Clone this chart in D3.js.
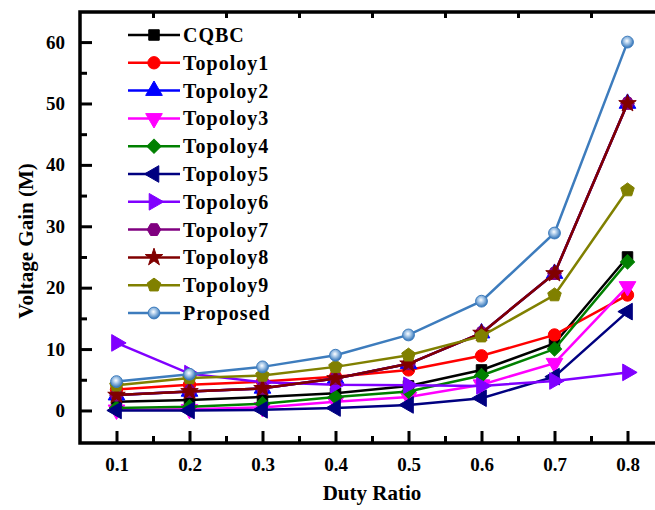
<!DOCTYPE html>
<html>
<head>
<meta charset="utf-8">
<script src="https://cdn.jsdelivr.net/npm/d3@7"></script>
<style>
body { margin: 0; background: #fff; }
text { font-family: "Liberation Serif", "Times New Roman", serif; font-weight: bold; fill: #000; }
</style>
</head>
<body>
<div id="chart"></div>
<script>
// data
var duty = [0.1, 0.2, 0.3, 0.4, 0.5, 0.6, 0.7, 0.8];
var cqbc     = [1.4, 1.7, 2.2, 2.8, 4.0, 6.6, 10.9, 25.0];
var topo1    = [3.4, 4.2, 4.7, 5.5, 6.6, 8.9, 12.3, 18.8];
var topo2    = [2.5, 3.1, 3.6, 5.2, 7.6, 12.6, 22.3, 50.0];
var topo3    = [0.1, 0.2, 0.5, 1.4, 2.2, 4.2, 7.7, 20.2];
var topo4    = [0.4, 0.6, 1.1, 2.2, 3.1, 5.7, 10.0, 24.2];
var topo5    = [0.0, 0.0, 0.1, 0.4, 0.9, 2.0, 5.5, 16.1];
var topo6    = [11.0, 6.0, 4.6, 4.2, 4.1, 4.0, 4.8, 6.2];
var topo7    = [2.5, 3.1, 3.6, 5.2, 7.6, 12.6, 22.3, 50.0];
var topo8    = [2.5, 3.1, 3.6, 5.2, 7.6, 12.6, 22.3, 50.0];
var topo9    = [4.1, 5.3, 5.7, 7.1, 9.0, 12.1, 18.8, 35.9];
var proposed = [4.7, 5.9, 7.1, 9.0, 12.3, 17.8, 28.9, 60.0];

var names = ["CQBC", "Topoloy1", "Topoloy2", "Topoloy3", "Topoloy4", "Topoloy5",
	"Topoloy6", "Topoloy7", "Topoloy8", "Topoloy9", "Proposed"];
var values = [cqbc, topo1, topo2, topo3, topo4, topo5, topo6, topo7, topo8, topo9, proposed];
var colors = ["#000000", "#ff0000", "#0000ff", "#ff00ff", "#008000", "#000080",
	"#8000ff", "#800080", "#800000", "#808000", "#3d7cbd"];

var yMajor = [0, 10, 20, 30, 40, 50, 60];
var yMinor = [5, 15, 25, 35, 45, 55];
var xMinor = [0.15, 0.25, 0.35, 0.45, 0.55, 0.65, 0.75];

/* custom marker shapes */
function polygon(n, rot){
	return {
		draw: function(ctx, size){
			var r = Math.sqrt(size / (n / 2 * Math.sin(2 * Math.PI / n)));
			for (var i = 0; i < n; i++){
				var a = rot + i * 2 * Math.PI / n;
				if (i == 0) ctx.moveTo(r * Math.sin(a), -r * Math.cos(a));
				else ctx.lineTo(r * Math.sin(a), -r * Math.cos(a));
			}
			ctx.closePath();
		}
	};
}
var shapes = [
	{type: d3.symbolSquare, rot: 0, size: 110},
	{type: d3.symbolCircle, rot: 0, size: 120},
	{type: d3.symbolTriangle, rot: 0, size: 120},
	{type: d3.symbolTriangle, rot: 180, size: 120},
	{type: d3.symbolSquare, rot: 45, size: 100},
	{type: d3.symbolTriangle, rot: -90, size: 120},
	{type: d3.symbolTriangle, rot: 90, size: 120},
	{type: polygon(6, Math.PI / 6), rot: 0, size: 120},
	{type: d3.symbolStar, rot: 0, size: 95},
	{type: polygon(5, 0), rot: 0, size: 120},
	{type: d3.symbolCircle, rot: 0, size: 110}
];

var W = 655, H = 510;
var svg = d3.select("#chart").append("svg")
	.attr("width", W)
	.attr("height", H);

var grad = svg.append("defs").append("radialGradient")
	.attr("id", "ball")
	.attr("cx", "45%").attr("cy", "40%").attr("r", "55%");
grad.append("stop").attr("offset", "0%").attr("stop-color", "#ffffff");
grad.append("stop").attr("offset", "35%").attr("stop-color", "#b8d3ee");
grad.append("stop").attr("offset", "100%").attr("stop-color", "#3d7cbd");

var plotL = 80, plotT = 12, plotB = 443;
var x = d3.scaleLinear().domain([0.05, 0.85]).range([plotL, plotL + 584]);
var y = d3.scaleLinear().domain([-5.3, 64.9]).range([plotB, plotT]);

// axes (ticks inward)
var gy = svg.append("g").attr("transform", "translate(" + plotL + ",0)");
gy.call(d3.axisLeft(y).tickValues(yMajor).tickSize(-12).tickPadding(15).tickFormat(d3.format("d")));
var gy2 = svg.append("g").attr("transform", "translate(" + plotL + ",0)");
gy2.call(d3.axisLeft(y).tickValues(yMinor).tickSize(-7).tickFormat(""));

var gx = svg.append("g").attr("transform", "translate(0," + plotB + ")");
gx.call(d3.axisBottom(x).tickValues(duty).tickSize(-12).tickPadding(15).tickFormat(d3.format(".1f")));
var gx2 = svg.append("g").attr("transform", "translate(0," + plotB + ")");
gx2.call(d3.axisBottom(x).tickValues(xMinor).tickSize(-7).tickFormat(""));

var gt = svg.append("g").attr("transform", "translate(0," + plotT + ")");
gt.call(d3.axisTop(x).tickValues(xMinor).tickSize(-6).tickFormat(""));

svg.selectAll(".domain").remove();
svg.selectAll(".tick line").attr("stroke", "#000").attr("stroke-width", 3);
svg.selectAll(".tick text").style("font-size", "19px").attr("fill", "#000");

// frame
svg.append("path")
	.attr("d", "M" + W + "," + plotT + "H" + plotL + "V" + plotB + "H" + W)
	.attr("fill", "none")
	.attr("stroke", "#000")
	.attr("stroke-width", 3.5);

// series
var line = d3.line()
	.x(function(d, i){ return x(duty[i]); })
	.y(function(d){ return y(d); });

function marker(g, k, cx, cy){
	var s = shapes[k];
	g.append("path")
		.attr("d", d3.symbol().type(s.type).size(s.size)())
		.attr("transform", "translate(" + cx + "," + cy + ") rotate(" + s.rot + ")")
		.attr("fill", k == 10 ? "url(#ball)" : colors[k])
		.attr("stroke", colors[k])
		.attr("stroke-width", 1);
}

for (var k = 0; k < values.length; k++){
	var g = svg.append("g");
	g.append("path")
		.datum(values[k])
		.attr("d", line)
		.attr("fill", "none")
		.attr("stroke", colors[k])
		.attr("stroke-width", 2.5);
	for (var i = 0; i < duty.length; i++)
		marker(g, k, x(duty[i]), y(values[k][i]));
}

// legend
var legY0 = 35, legStep = 27.8;
for (var k = 0; k < names.length; k++){
	var ly = legY0 + k * legStep;
	var lg = svg.append("g");
	lg.append("line")
		.attr("x1", 128).attr("x2", 180)
		.attr("y1", ly).attr("y2", ly)
		.attr("stroke", colors[k])
		.attr("stroke-width", 2.5);
	marker(lg, k, 154, ly);
	lg.append("text")
		.attr("x", 183)
		.attr("y", ly + 7)
		.style("font-size", "20px")
		.style("letter-spacing", "1px")
		.text(names[k]);
}

// axis titles
svg.append("text")
	.attr("x", 372)
	.attr("y", 500)
	.attr("text-anchor", "middle")
	.style("font-size", "21px")
	.text("Duty Ratio");

svg.append("text")
	.attr("transform", "translate(33,241) rotate(-90)")
	.attr("text-anchor", "middle")
	.style("font-size", "21px")
	.text("Voltage Gain (M)");
</script>
</body>
</html>
